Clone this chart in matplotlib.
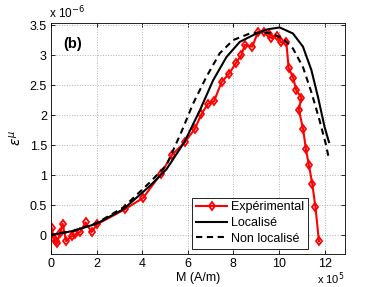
import numpy as np
import matplotlib
matplotlib.use('Agg')
import matplotlib.pyplot as plt

plt.rcParams['font.family'] = ['Liberation Sans', 'DejaVu Sans']

# M in units of 1e5 A/m, strain in units of 1e-6
m_exp = [0.03, 0.12, 0.2, 0.28, 0.39, 0.51, 0.66, 0.9, 1.05, 1.27, 1.52, 1.78, 2.02,
         3.24, 4.04, 4.82, 5.29, 5.87, 6.31, 6.6, 6.89, 7.15, 7.48, 7.81, 8.1, 8.35,
         8.5, 8.83, 9.08, 9.34, 9.56, 9.67, 9.91, 10.1, 10.32, 10.42, 10.62, 10.76,
         10.98, 10.87, 11.06, 11.18, 11.31, 11.46, 11.6, 11.75]
eps_exp = [0.12, -0.06, -0.1, -0.13, 0.04, 0.19, -0.1, -0.02, 0.01, 0.05, 0.21, 0.05, 0.18,
           0.43, 0.62, 1.02, 1.33, 1.55, 1.77, 2.02, 2.19, 2.23, 2.55, 2.69, 2.86, 3.0,
           3.17, 3.14, 3.39, 3.38, 3.35, 3.28, 3.32, 3.21, 3.22, 2.79, 2.62, 2.41,
           2.29, 2.09, 1.76, 1.43, 1.17, 0.85, 0.46, -0.1]

m_loc = [0, 0.98, 2.0, 3.17, 4.34, 5.07, 5.85, 6.53, 7.11, 7.7, 8.28, 9.01, 9.5, 10.03,
         10.61, 11.05, 11.42, 11.71, 12.0, 12.19]
eps_loc = [0, 0.07, 0.19, 0.43, 0.82, 1.1, 1.55, 2.08, 2.58, 2.97, 3.22, 3.36, 3.43, 3.46,
           3.36, 3.14, 2.75, 2.3, 1.8, 1.55]

m_nl = [0, 0.98, 2.0, 3.17, 4.34, 5.07, 5.72, 6.23, 6.82, 7.4, 7.99, 8.72, 9.15, 9.59,
        10.17, 10.61, 11.05, 11.42, 11.78, 12.05, 12.19]
eps_nl = [0, 0.07, 0.2, 0.46, 0.88, 1.17, 1.72, 2.19, 2.64, 3.03, 3.25, 3.36, 3.37, 3.37,
          3.28, 3.11, 2.8, 2.38, 1.91, 1.52, 1.27]

fig = plt.figure(figsize=(3.82, 2.87), dpi=100)
ax = fig.add_axes([0.1335, 0.114, 0.77, 0.807])

ax.plot(m_exp, eps_exp, '-', color='red', lw=1.5, marker='d', ms=4.5, mfc='none', mew=1.3,
        label='Expérimental')
ax.plot(m_loc, eps_loc, '-', color='black', lw=1.5, label='Localisé')
ax.plot(m_nl, eps_nl, '--', color='black', lw=1.5, dashes=(3, 2.2), label='Non localisé')

ax.set_xlim(0, 12.9)
ax.set_ylim(-0.32, 3.54)
ax.set_xticks(range(0, 13, 2))
ax.set_yticks([0, 0.5, 1, 1.5, 2, 2.5, 3, 3.5])
ax.set_yticklabels(['0', '0.5', '1', '1.5', '2', '2.5', '3', '3.5'])
ax.tick_params(direction='in', top=True, right=True, labelsize=9, length=3, width=0.6, pad=3)
ax.grid(True, linestyle=':', color='#b0b0b0', lw=0.7)
for s in ax.spines.values():
    s.set_linewidth(0.6)

ax.set_xlabel('M (A/m)', fontsize=9, labelpad=1)
ax.set_ylabel(r'$\varepsilon^{\mu}$', fontsize=10, labelpad=4)
ax.text(0.04, 0.91, '(b)', transform=ax.transAxes, fontsize=10.5, fontweight='bold',
        va='center')
fig.text(0.128, 0.955, r'x 10$^{-6}$', fontsize=8.5, ha='left', va='center')
fig.text(0.83, 0.0, r'x 10$^{5}$', fontsize=8, ha='left', va='bottom')

leg = ax.legend(loc='upper right', bbox_to_anchor=(0.874, 0.245), fontsize=9, fancybox=False,
                edgecolor='black', framealpha=1, handlelength=2.5, borderpad=0.3,
                labelspacing=0.3, handletextpad=0.3, borderaxespad=0)
leg.get_frame().set_linewidth(0.6)

fig.savefig('out.png', dpi=100)
